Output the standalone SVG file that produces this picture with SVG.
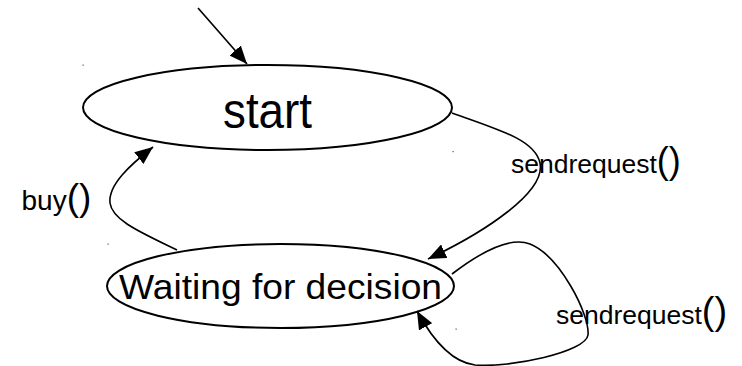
<svg xmlns="http://www.w3.org/2000/svg" width="742" height="366" viewBox="0 0 742 366">
<style>
.node{fill:#fff;stroke:#000;stroke-width:2}
.edge{fill:none;stroke:#000;stroke-width:1.6}
.t{font-family:"Liberation Sans",Arial,sans-serif;fill:#000}
.dot{fill:#555}
</style>
<defs>
<marker id="ah" markerUnits="userSpaceOnUse" markerWidth="19" markerHeight="15" refX="18" refY="7.5" orient="auto">
<path d="M0,0 L18,7.5 L0,15 z" fill="#000"/>
</marker>
</defs>
<rect width="742" height="366" fill="#fff"/>
<g id="node-start">
<ellipse class="node" cx="267.5" cy="107.5" rx="184.5" ry="42.5"/>
<text class="t" x="223" y="127.5" font-size="50" textLength="89" lengthAdjust="spacingAndGlyphs">start</text>
</g>
<g id="node-waiting">
<ellipse class="node" cx="280.5" cy="286" rx="173.5" ry="42"/>
<text class="t" x="119" y="299" font-size="35" textLength="323" lengthAdjust="spacingAndGlyphs">Waiting for decision</text>
</g>
<g id="connectors">
<line class="edge" x1="198" y1="8" x2="247" y2="64" marker-end="url(#ah)"/>
<path class="edge" d="M452,113 C500,130 535,140 540,163 C546,192 485,232 428,259" marker-end="url(#ah)"/>
<path class="edge" d="M452,274 C490,245 515,238 530,244 C560,256 590,315 588,335 C586,352 510,368 475,365 C450,362 430,335 417,311" marker-end="url(#ah)"/>
<path class="edge" d="M177,250 C140,232 112,220 110,203 C108,185 130,165 153,147" marker-end="url(#ah)"/>
</g>
<g id="labels">
<text class="t" x="511" y="172.5" font-size="26.5">sendrequest<tspan font-size="36">()</tspan></text>
<text class="t" x="556" y="323.5" font-size="26.5">sendrequest<tspan font-size="38">()</tspan></text>
<text class="t" x="21.5" y="210" font-size="28">buy<tspan font-size="37">()</tspan></text>
</g>
<g id="marks">
<rect class="dot" x="82.5" y="64.5" width="1.2" height="1.2"/>
<rect class="dot" x="452.5" y="151" width="1.2" height="1.2"/>
<rect class="dot" x="107.5" y="243.5" width="1.2" height="1.2"/>
<rect class="dot" x="455.5" y="328.5" width="1.2" height="1.2"/>
</g>
</svg>
